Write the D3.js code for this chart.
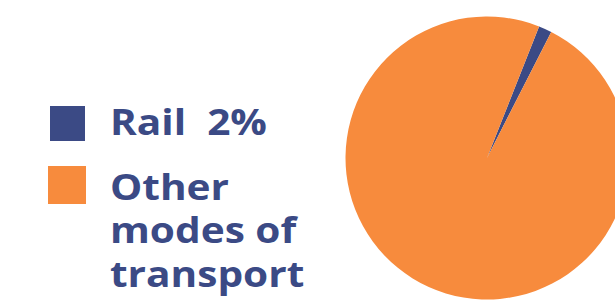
<!DOCTYPE html>
<html lang="en">
<head>
    <meta charset="UTF-8">
    <title>Rail share</title>
    <script src="https://cdn.jsdelivr.net/npm/d3@7"></script>
</head>
<style>
    body {
     margin: 0;
     background: #fff;
    }
    .legend text {
     font-family: "Open Sans", sans-serif;
     font-weight: bold;
     font-size: 35px;
     fill: #3b4a85;
     white-space: pre;
    }
</style>
<body>
    <script type="text/javascript">
        // data
        var categories = ["Rail", "Other modes of transport"];
        var values = [1.5, 98.5];
        var legendLines = [["Rail  2%"], ["Other", "modes of", "transport"]];
        var colors = ["#3b4a85", "#f78b3d"];

        var w = 615, h = 303;
        var cx = 487, cy = 158, r = 141.5;

        var svg = d3.select("body").append("svg")
            .attr("width", w)
            .attr("height", h);

        var data = categories.map(function(c, i) { return {name: c, value: values[i]}; });

        var color = d3.scaleOrdinal().domain(categories).range(colors);

        var start = 21.6 * Math.PI / 180;
        var pie = d3.pie()
            .sort(null)
            .value(function(d) { return d.value; })
            .startAngle(start)
            .endAngle(start + 2 * Math.PI);

        var arc = d3.arc().innerRadius(0).outerRadius(r);

        svg.append("g")
            .attr("transform", "translate(" + cx + "," + cy + ")")
            .selectAll("path")
            .data(pie(data))
            .enter().append("path")
            .attr("d", arc)
            .attr("fill", function(d) { return color(d.data.name); });

        // legend
        var legend = svg.append("g").attr("class", "legend");
        var rows = [{y: 106, size: 35, x: 50, baseline: 135}, {y: 166, size: 38, x: 48, baseline: 200}];

        rows.forEach(function(row, i) {
            legend.append("rect")
                .attr("x", row.x)
                .attr("y", row.y)
                .attr("width", row.size)
                .attr("height", row.size)
                .attr("fill", color(categories[i]));
            // the source font is drawn a bit wider than Open Sans
            var t = legend.append("text")
                .attr("transform", "translate(110," + row.baseline + ") scale(1.16,1)");
            legendLines[i].forEach(function(line, j) {
                t.append("tspan")
                    .attr("x", 0)
                    .attr("dy", j == 0 ? 0 : 43.5)
                    .text(line);
            });
        });
    </script>
</body>
</html>
